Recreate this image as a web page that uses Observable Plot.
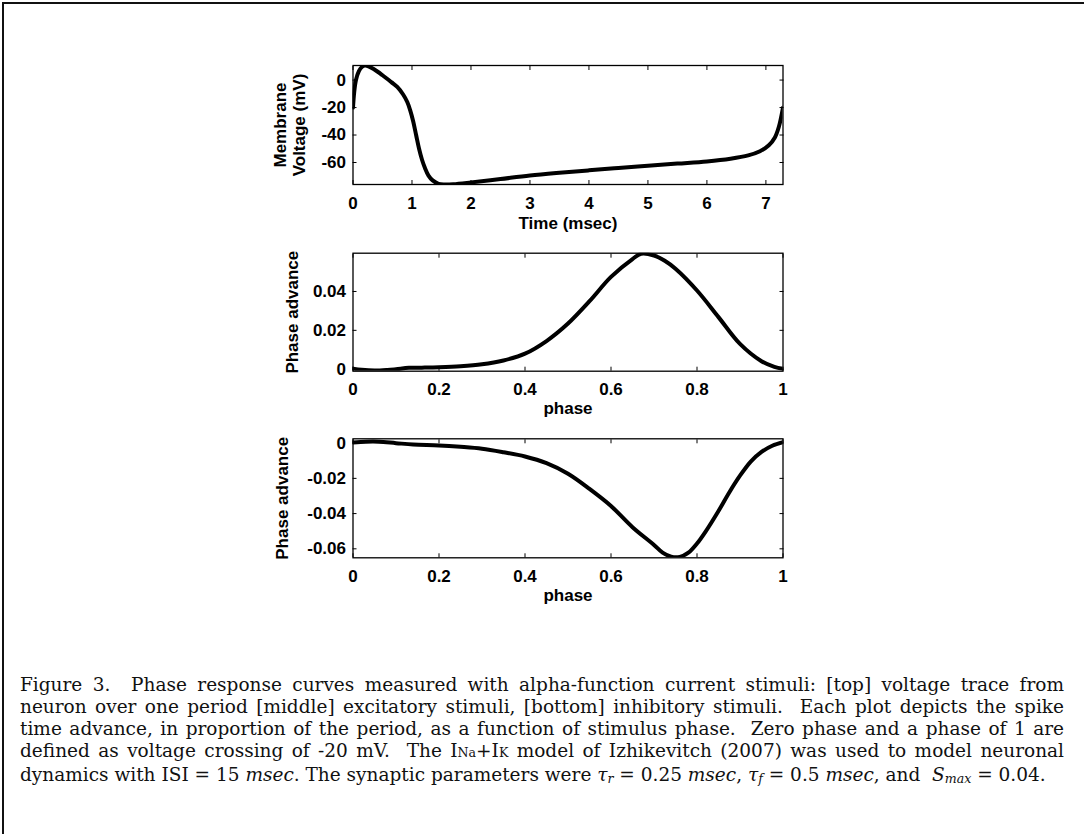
<!DOCTYPE html>
<html>
<head>
<meta charset="utf-8">
<script src="https://cdn.jsdelivr.net/npm/d3@7"></script>
<script src="https://cdn.jsdelivr.net/npm/@observablehq/plot@0.6"></script>
<style>
  html, body { margin: 0; padding: 0; background: #fff; }
  #page { position: relative; width: 1084px; height: 834px; overflow: hidden; background: #fff; }
  #border { position: absolute; left: 2px; top: 2px; width: 1200px; height: 1000px; border-left: 2px solid #111; border-top: 2px solid #111; }
  .panel { position: absolute; left: 0; }
  .panel svg { overflow: visible; }
  #caption { position: absolute; left: 20px; width: 1044px; top: 674px; font-family: "DejaVu Serif", serif; font-size: 16px; line-height: 22px; color: #111; }
  #caption .m { display: inline-block; white-space: nowrap; }
  #caption.fitted .j { text-align: justify; text-align-last: justify; }
  #caption.fitted .m { display: inline; white-space: normal; }
  #caption sub { font-size: 0.68em; vertical-align: -0.15em; line-height: 0; }
  #caption .sm { font-size: 0.68em; }
</style>
</head>
<body>
<div id="page">
  <div id="border"></div>
  <div class="panel" id="p1" style="top:0px"></div>
  <div class="panel" id="p2" style="top:240px"></div>
  <div class="panel" id="p3" style="top:430px"></div>
  <div id="caption">
    <div class="j"><span class="m">Figure 3.&nbsp; Phase response curves measured with alpha-function current stimuli: [top] voltage trace from</span></div>
    <div class="j"><span class="m">neuron over one period [middle] excitatory stimuli, [bottom] inhibitory stimuli.&nbsp; Each plot depicts the spike</span></div>
    <div class="j"><span class="m">time advance, in proportion of the period, as a function of stimulus phase.&nbsp; Zero phase and a phase of 1 are</span></div>
    <div class="j"><span class="m">defined as voltage crossing of -20 mV.&nbsp; The I<span class="sm">Na</span>+I<span class="sm">K</span> model of Izhikevitch (2007) was used to model neuronal</span></div>
    <div><span class="m">dynamics with ISI = 15 <i>msec</i>. The synaptic parameters were <i>τ<sub>r</sub></i> = 0.25 <i>msec</i>, <i>τ<sub>f</sub></i> = 0.5 <i>msec</i>, and&nbsp; <i>S<sub>max</sub></i> = 0.04.</span></div>
  </div>
</div>
<script>
// ---- data ----
const timeMs = [0, 0.02, 0.05, 0.1, 0.15, 0.2, 0.25, 0.35, 0.5, 0.65, 0.75, 0.85, 0.92, 0.97, 1.02, 1.07, 1.12, 1.17, 1.22, 1.28, 1.35, 1.45, 1.55, 1.7, 2.0, 2.5, 3.0, 3.5, 4.0, 4.5, 5.0, 5.5, 6.0, 6.4, 6.7, 6.9, 7.05, 7.15, 7.22, 7.29];
const voltageMv = [-20, -9, 0, 6.5, 9.5, 10.5, 10.2, 8, 3.5, -1.5, -5, -10.5, -16, -22, -30, -40, -50, -58, -64, -69.5, -73, -75.5, -76, -75.8, -74.5, -72, -69.5, -67.5, -65.7, -64, -62.4, -60.8, -59.2, -57.2, -54.8, -51.8, -47.5, -42, -34, -20];

const excPhase = [0, 0.02, 0.05, 0.08, 0.1, 0.13, 0.16, 0.2, 0.25, 0.3, 0.35, 0.4, 0.45, 0.5, 0.55, 0.6, 0.65, 0.67, 0.7, 0.725, 0.75, 0.8, 0.85, 0.9, 0.95, 0.98, 1.0];
const excAdvance = [0.0003, -0.0003, -0.0007, -0.0004, 0.0, 0.0007, 0.0008, 0.001, 0.0015, 0.0025, 0.0045, 0.008, 0.0145, 0.0235, 0.035, 0.0475, 0.0567, 0.0594, 0.0585, 0.0558, 0.0517, 0.0405, 0.0268, 0.013, 0.0041, 0.0012, 0.0002];

const inhPhase = [0, 0.03, 0.06, 0.1, 0.14, 0.2, 0.25, 0.3, 0.35, 0.4, 0.45, 0.5, 0.55, 0.6, 0.65, 0.7, 0.72, 0.74, 0.76, 0.78, 0.8, 0.82, 0.85, 0.875, 0.9, 0.925, 0.95, 0.975, 1.0];
const inhAdvance = [0.0004, 0.0008, 0.0008, 0.0, -0.0008, -0.0013, -0.0021, -0.0032, -0.0052, -0.0076, -0.0114, -0.0174, -0.026, -0.0357, -0.0477, -0.0578, -0.0622, -0.0645, -0.0646, -0.0622, -0.057, -0.0502, -0.0385, -0.028, -0.0185, -0.0105, -0.005, -0.0015, 0.0005];

const timeTicks = [0, 1, 2, 3, 4, 5, 6, 7];
const voltTicks = [-60, -40, -20, 0];
const phaseTicks = [0, 0.2, 0.4, 0.6, 0.8, 1];
const excTicks = [0, 0.02, 0.04];
const inhTicks = [-0.06, -0.04, -0.02, 0];

const timeLabel = "Time (msec)";
const voltLabel = "Membrane\nVoltage (mV)";
const phaseLabel = "phase";
const advanceLabel = "Phase advance";

// ---- drawing ----
function panel({xs, ys, xDomain, yDomain, xTicks, yTicks, xLabel, yLabel, yLabelDx, xLabelDy, height, marginTop, marginBottom}) {
  const data = xs.map((x, i) => ({x, y: ys[i]}));
  const fmt = d => String(d);
  const blank = () => "";
  return Plot.plot({
    width: 1084,
    height,
    marginTop,
    marginBottom,
    marginLeft: 352.5,
    marginRight: 301.5,
    style: {fontFamily: "'Liberation Sans', Arial, sans-serif", fontSize: "17px", fontWeight: "bold", color: "#000", background: "transparent", overflow: "visible"},
    x: {domain: xDomain, label: null},
    y: {domain: yDomain, label: null},
    marks: [
      Plot.line(data, {x: "x", y: "y", stroke: "#000", strokeWidth: 4, curve: "catmull-rom", clip: true}),
      Plot.frame({stroke: "#000", strokeWidth: 1.3}),
      Plot.axisX({ticks: xTicks, tickSize: 0, tickPadding: 12, tickFormat: fmt, label: null}),
      Plot.axisX({ticks: xTicks, tickSize: -4, tickFormat: blank, label: null}),
      Plot.axisX({anchor: "top", ticks: xTicks, tickSize: -4, tickFormat: blank, label: null}),
      Plot.axisY({ticks: yTicks, tickSize: 0, tickPadding: 7, tickFormat: fmt, label: null}),
      Plot.axisY({ticks: yTicks, tickSize: -4, tickFormat: blank, label: null}),
      Plot.axisY({anchor: "right", ticks: yTicks, tickSize: -4, tickFormat: blank, label: null}),
      Plot.text([xLabel], {text: d => d, frameAnchor: "bottom", dy: xLabelDy, lineAnchor: "middle"}),
      Plot.text([yLabel], {text: d => d, frameAnchor: "left", dx: yLabelDx, rotate: -90, lineAnchor: "middle", textAnchor: "middle", lineHeight: 1.12})
    ]
  });
}

document.getElementById("p1").append(panel({
  xs: timeMs, ys: voltageMv, xDomain: [0, 7.29], yDomain: [-76, 10.6],
  xTicks: timeTicks, yTicks: voltTicks, xLabel: timeLabel, yLabel: voltLabel,
  yLabelDx: -64, xLabelDy: 39, height: 240, marginTop: 65, marginBottom: 56
}));
document.getElementById("p2").append(panel({
  xs: excPhase, ys: excAdvance, xDomain: [0, 1], yDomain: [-0.00103, 0.0597],
  xTicks: phaseTicks, yTicks: excTicks, xLabel: phaseLabel, yLabel: advanceLabel,
  yLabelDx: -61, xLabelDy: 37.5, height: 190, marginTop: 12.7, marginBottom: 59.3
}));
document.getElementById("p3").append(panel({
  xs: inhPhase, ys: inhAdvance, xDomain: [0, 1], yDomain: [-0.0651, 0.00246],
  xTicks: phaseTicks, yTicks: inhTicks, xLabel: phaseLabel, yLabel: advanceLabel,
  yLabelDx: -71, xLabelDy: 37.5, height: 200, marginTop: 8.3, marginBottom: 72.7
}));

// ---- caption sizing: one font size so the last (unjustified) line spans like the reference ----
(function fitCaption() {
  const cap = document.getElementById("caption");
  const spans = [...cap.querySelectorAll(":scope > div > .m")];
  const base = 16;
  const w = spans.map(s => s.getBoundingClientRect().width);
  const lastTarget = 1026, fullTarget = 1040;
  let size = base * lastTarget / w[w.length - 1];
  for (let i = 0; i < w.length - 1; i++) size = Math.min(size, base * fullTarget / w[i]);
  cap.style.fontSize = size.toFixed(2) + "px";
  cap.classList.add("fitted");
})();
</script>
</body>
</html>
